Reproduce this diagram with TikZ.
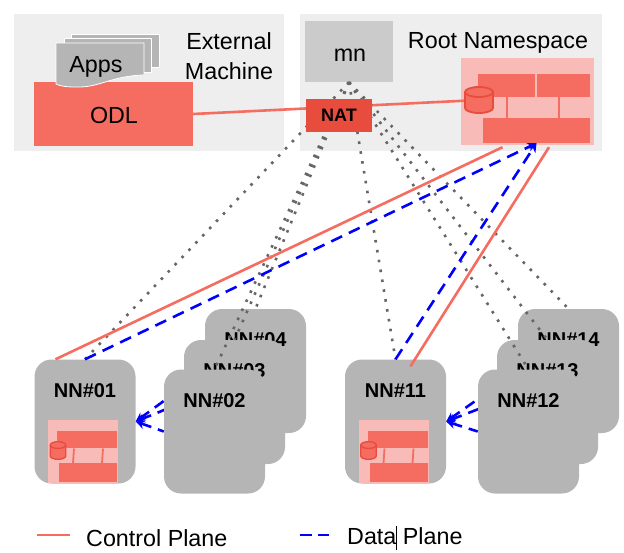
\documentclass[tikz,border=0pt]{standalone}
\usepackage{fontspec}
\setmainfont{Liberation Sans}
\usepackage{tikz}
\usetikzlibrary{arrows.meta, backgrounds}
\definecolor{panelgray}{HTML}{EEEEEE}
\definecolor{mngray}{HTML}{CBCBCB}
\definecolor{nngray}{HTML}{B5B5B5}
\definecolor{brickred}{HTML}{F56C60}
\definecolor{natred}{HTML}{E74C3C}
\definecolor{palered}{HTML}{F9BBB8}
\definecolor{dotgray}{HTML}{666666}

\begin{document}
\begin{tikzpicture}[
    x=1pt, y=-1pt,
    bigtext/.style={font=\fontsize{23.3}{30}\selectfont, text=black, inner sep=0pt, align=center},
    solid box/.style={rectangle, inner sep=0pt, minimum width=#1},
    panel/.style={solid box=#1, fill=panelgray, minimum height=137pt},
    brick/.style={solid box=#1, fill=brickred},
    dbcan/.pic={
        \draw[draw=natred, fill=brickred] (-14,-8) -- (-14,8) arc[start angle=180, end angle=0, x radius=14, y radius=5]
            -- (14,-8) arc[start angle=0, end angle=-180, x radius=14, y radius=5] -- cycle;
        \draw[draw=natred] (-14,-8) arc[start angle=180, end angle=0, x radius=14, y radius=5];
    },
    nntext/.style={font=\fontsize{20}{24}\selectfont\bfseries, yshift=31pt, inner sep=0pt},
    nn/.style={rectangle, fill=nngray, rounded corners=17pt, minimum width=101pt, minimum height=124pt, inner sep=0pt, label={[nntext]center:#1}},
    page/.style={solid box=#1, fill=nngray, draw=white, line width=0.8pt},
    ctl/.style={draw=brickred, line width=2.6pt},
    data/.style={draw=blue, line width=2.6pt, dash pattern=on 12pt off 7.5pt},
    datatip/.style={data, -{Stealth[length=9pt, width=9pt]}},
    peertip/.style={draw=blue, line width=2.6pt, dash pattern=on 11pt off 7pt, {Stealth[length=9pt, width=9pt]}-},
    mgmt/.style={draw=dotgray, line width=2.6pt, dash pattern=on 2.6pt off 7.4pt}
]
    \useasboundingbox (0,0) rectangle (624,552);

    \node[panel=270pt] (external) at (149,82.5) {};
    \node[panel=302pt] (root) at (451,82.5) {};
    \node[bigtext] (externaltxt) at (229,56) {External\\Machine};
    \node[bigtext] (roottxt) at (498,43) {Root Namespace};

    \node[solid box=88pt, fill=mngray, minimum height=61pt] (mn) at (349,51.5) {};
    \node[bigtext] (mntxt) at (350,55) {mn};

    \node[solid box=159pt, fill=brickred, minimum height=64pt] (odl) at (113.5,114) {};
    \node[bigtext] (odltxt) at (114,115) {ODL};
    \node[page=88pt, minimum height=33pt] (apps3) at (115,50.5) {};
    \node[page=87pt, minimum height=34pt] (apps2) at (107.5,55) {};
    \draw[fill=nngray, draw=white, line width=0.8pt] (56,43) -- (144,43) -- (144,75)
        .. controls (110,76) and (100,88) .. (75,87) .. controls (66,87) and (60,86) .. (56,84) -- cycle;
    \node[bigtext] (apps) at (96,67) {Apps};

    % firewall in the root namespace
    \node[solid box=133pt, fill=palered, minimum height=87pt] (fw) at (527.5,101.5) {};
    \node[brick=57pt, minimum height=23pt] (fwtopa) at (506.5,85.5) {};
    \node[brick=53pt, minimum height=23pt] (fwtopb) at (563.5,85.5) {};
    \node[brick=107pt, minimum height=25pt] (fwbase) at (536.5,130.5) {};
    \draw[brickred, line width=2pt] (fwtopa.south -| 506.7,0) -- (fwbase.north -| 506.7,0);
    \draw[brickred, line width=2pt] (fwtopa.south -| 559,0) -- (fwbase.north -| 559,0);
    \coordinate (fwdb) at (479,100);
    \draw[ctl] (odl.east) -- (fwdb);
    \pic[line width=1.8pt] at (fwdb) {dbcan};

    % stacks of name nodes
    \node[nn=NN\#04] (nn04) at (255.5,371) {};
    \node[nn=NN\#03] (nn03) at (234.5,402) {};
    \node[nn=NN\#02] (nn02) at (214.5,431.5) {};
    \node[nn=NN\#14] (nn14) at (568.5,371) {};
    \node[nn=NN\#13] (nn13) at (547.5,402) {};
    \node[nn=NN\#12] (nn12) at (528.5,431.5) {};
    \node[nn=NN\#01] (nn01) at (85,421.5) {};
    \node[nn=NN\#11] (nn11) at (395.5,421.5) {};

    \foreach \nnode in {nn01,nn11} {
        \begin{scope}[shift={(\nnode.center)}]
            \node[solid box=70pt, fill=palered, minimum height=63pt] (\nnode fw) at (-2,30) {};
            \node[brick=60pt, minimum height=17pt] (\nnode top) at (2,18) {};
            \node[brick=58pt, minimum height=19pt] (\nnode base) at (3,51) {};
            \draw[brickred, line width=1.8pt] (-11,27) -- (-12,42);
            \draw[brickred, line width=1.8pt] (18,27) -- (17,42);
            \pic[xscale=0.55, yscale=0.68, line width=1.3pt] at (-27,29) {dbcan};
        \end{scope}
    }

    \foreach \nnode in {nn01,nn02,nn03,nn04,nn11,nn12,nn13,nn14}
        \draw[mgmt] (mn.south) -- (\nnode.north);

    \node[solid box=66pt, fill=natred, minimum height=33pt, font=\fontsize{18}{22}\selectfont\bfseries] (nat) at (339,115.5) {NAT};

    \draw[ctl] ([xshift=-25pt,yshift=-2pt]fw.south) -- ([xshift=-29.5pt]nn01.north);
    \draw[ctl] ([xshift=21.5pt,yshift=-2pt]fw.south) -- ([xshift=15pt,yshift=-7pt]nn11.north);
    \draw[datatip] (nn01.north) -- (fwbase.south);
    \draw[datatip] (nn11.north) -- (fwbase.south);

    \begin{pgfonlayer}{background}
        \foreach \nnode in {nn02,nn03,nn04}
            \draw[peertip] (nn01.east) -- (\nnode.west);
        \foreach \nnode in {nn12,nn13,nn14}
            \draw[peertip] (nn11.east) -- (\nnode.west);
    \end{pgfonlayer}

    % legend
    \coordinate (ctla) at (37,535);
    \coordinate (ctlb) at (70,535);
    \coordinate (dataa) at (300,535);
    \coordinate (datab) at (329,535);
    \draw[ctl] (ctla) -- (ctlb);
    \draw[draw=blue, line width=2.6pt, dash pattern=on 12pt off 6pt] (dataa) -- (datab);
    \node[bigtext, anchor=west] (ctltxt) at (86,538) {Control Plane};
    \node[bigtext, anchor=west] (datatxt) at (347,538) {Data\rlap{\rule[-6pt]{0.8pt}{24pt}} Plane};
\end{tikzpicture}
\end{document}
